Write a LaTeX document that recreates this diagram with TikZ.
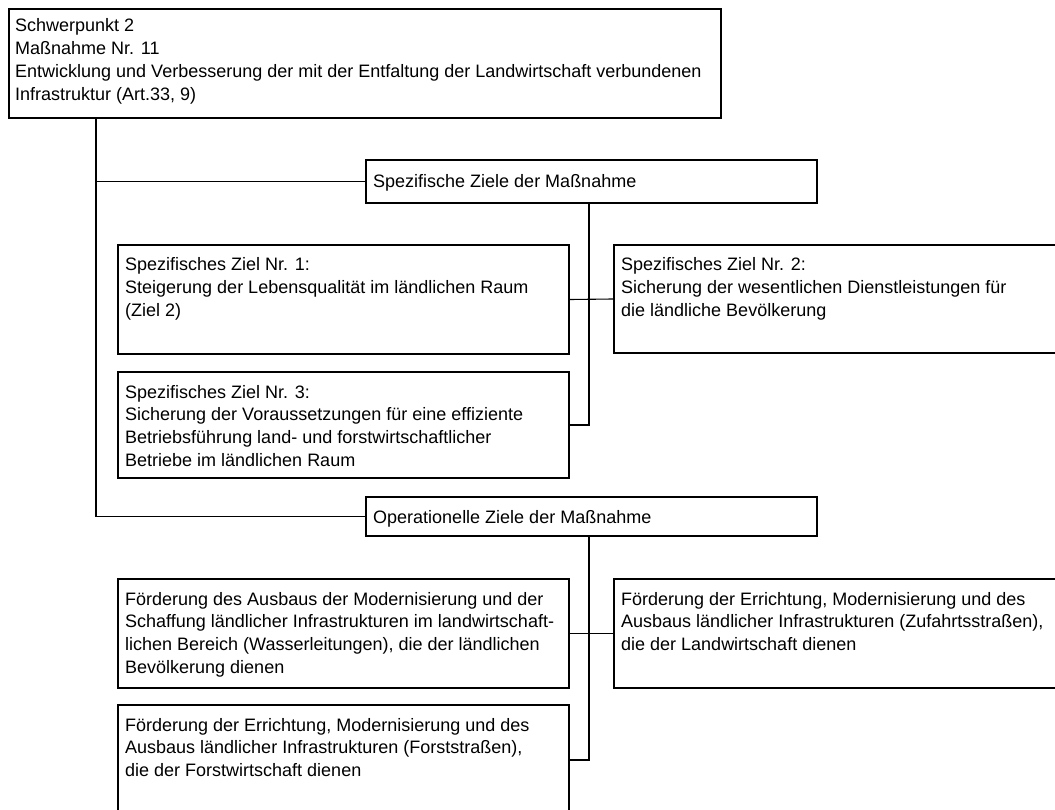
\documentclass[tikz,border=0pt]{standalone}
\usepackage{fontspec}
\setmainfont{Liberation Sans}
\usetikzlibrary{calc}
\tikzset{
  box/.style={draw=black, line width=2pt, fill=white, inner sep=0pt, anchor=north west},
  txt/.style={inner sep=0pt, anchor=base west, font=\fontsize{18}{22.7}\selectfont},
  trunk/.style={draw=black, line width=1.8pt},
  link/.style={draw=black, line width=1.1pt},
}
\newcommand{\lines}[1]{\begin{tabular}[t]{@{}l@{}}#1\end{tabular}}
\begin{document}
\begin{tikzpicture}[x=1pt, y=-1pt]
\useasboundingbox (0,0) rectangle (1055,810);

% boxes: top-left corner, width, height (picture coordinates, y downwards)
\node[box, minimum width=712pt, minimum height=109pt] (top) at (8,8) {};
\node[box, minimum width=451pt, minimum height=43pt]  (spez) at (365,159) {};
\node[box, minimum width=451pt, minimum height=109pt] (z1) at (117,244) {};
\node[box, minimum width=460pt, minimum height=108pt] (z2) at (613,244) {};
\node[box, minimum width=451pt, minimum height=106pt] (z3) at (117,371) {};
\node[box, minimum width=451pt, minimum height=39pt]  (oper) at (365,496) {};
\node[box, minimum width=451pt, minimum height=109pt] (o1) at (117,578) {};
\node[box, minimum width=460pt, minimum height=109pt] (o2) at (613,578) {};
\node[box, minimum width=451pt, minimum height=110pt] (o3) at (117,704) {};

% texts
\node[txt] (topt) at ($(top.north west)+(7,24)$) {\lines{Schwerpunkt 2\\
  Maßnahme Nr. 11\\
  Entwicklung und Verbesserung der mit der Entfaltung der Landwirtschaft verbundenen\\
  Infrastruktur (Art.33, 9)}};
\node[txt] (spezt) at ($(spez.west)+(8,6.5)$) {Spezifische Ziele der Maßnahme};
\node[txt] (z1t) at ($(z1.north west)+(8,27)$) {\lines{Spezifisches Ziel Nr. 1:\\
  Steigerung der Lebensqualität im ländlichen Raum\\
  (Ziel 2)}};
\node[txt] (z2t) at ($(z2.north west)+(8,27)$) {\lines{Spezifisches Ziel Nr. 2:\\
  Sicherung der wesentlichen Dienstleistungen für\\
  die ländliche Bevölkerung}};
\node[txt] (z3t) at ($(z3.north west)+(8,27)$) {\lines{Spezifisches Ziel Nr. 3:\\
  Sicherung der Voraussetzungen für eine effiziente\\
  Betriebsführung land- und forstwirtschaftlicher\\
  Betriebe im ländlichen Raum}};
\node[txt] (opert) at ($(oper.west)+(8,6.5)$) {Operationelle Ziele der Maßnahme};
\node[txt] (o1t) at ($(o1.north west)+(8,27)$) {\lines{Förderung des Ausbaus der Modernisierung und der\\
  Schaffung ländlicher Infrastrukturen im landwirtschaft-\\
  lichen Bereich (Wasserleitungen), die der ländlichen\\
  Bevölkerung dienen}};
\node[txt] (o2t) at ($(o2.north west)+(8,27)$) {\lines{Förderung der Errichtung, Modernisierung und des\\
  Ausbaus ländlicher Infrastrukturen (Zufahrtsstraßen),\\
  die der Landwirtschaft dienen}};
\node[txt] (o3t) at ($(o3.north west)+(8,27)$) {\lines{Förderung der Errichtung, Modernisierung und des\\
  Ausbaus ländlicher Infrastrukturen (Forststraßen),\\
  die der Forstwirtschaft dienen}};

% main trunk from the top box to both goal headers
\coordinate (t0) at ($(top.south west)+(88,0)$);
\draw[trunk] (t0) |- (oper.west);
\draw[trunk] (spez.west) -- (spez.west -| t0);

% specific goals
\coordinate (s0) at ($(spez.south west)+(224,0)$);
\draw[trunk] (s0) |- (z3.east);
\draw[link] (z1.east) -- (z2.west);

% operational goals
\coordinate (p0) at ($(oper.south west)+(224,0)$);
\draw[trunk] (p0) |- (o3.east);
\draw[link] (o1.east) -- (o2.west);
\end{tikzpicture}
\end{document}
